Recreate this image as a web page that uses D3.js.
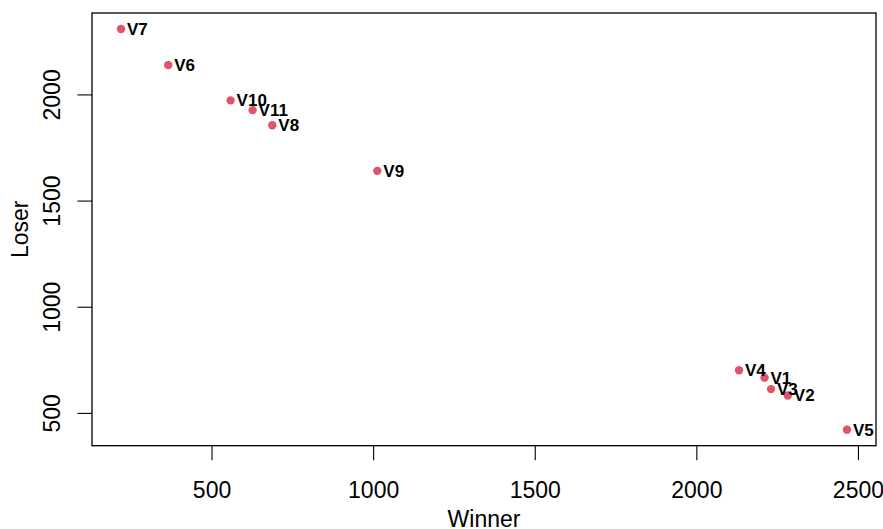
<!DOCTYPE html>
<html lang="en">
<head>
    <meta charset="UTF-8">
    <title>Winner vs Loser</title>
    <script src="https://d3js.org/d3.v7.min.js"></script>
    <style>
        body { margin: 0; background: white; }
        svg { display: block; font-family: "Liberation Sans", Arial, Helvetica, sans-serif; }
    </style>
</head>
<body>
<svg width="883" height="529"></svg>
<script>
// Data
var names  = ["V1", "V2", "V3", "V4", "V5", "V6", "V7", "V8", "V9", "V10", "V11"];
var winner = [2211, 2283, 2231, 2132, 2466, 366, 220, 688, 1013, 559, 627];
var loser  = [666, 582, 612, 701, 421, 2138, 2308, 1855, 1640, 1972, 1926];
var xTicks = [500, 1000, 1500, 2000, 2500];
var yTicks = [500, 1000, 1500, 2000];

var data = names.map(function (n, i) { return { name: n, x: winner[i], y: loser[i] }; });

// plot region like R's default margins
var plotLeft = 92, plotRight = 876, plotTop = 13, plotBottom = 445.7;

// R style 4% padding on the data range
function pad(ext) {
    var d = (ext[1] - ext[0]) * 0.04;
    return [ext[0] - d, ext[1] + d];
}

var x = d3.scaleLinear().domain(pad(d3.extent(winner))).range([plotLeft, plotRight]);
var y = d3.scaleLinear().domain(pad(d3.extent(loser))).range([plotBottom, plotTop]);

var svg = d3.select("svg");

// Bottom axis
var xAxis = svg.append("g")
    .attr("transform", "translate(0," + plotBottom + ")")
    .call(d3.axisBottom(x).tickValues(xTicks).tickFormat(d3.format("d"))
        .tickSize(14.5).tickPadding(21).tickSizeOuter(0));
xAxis.select(".domain").remove();
xAxis.selectAll("line").attr("stroke", "#000").attr("stroke-width", 1.1);
xAxis.selectAll("text")
    .attr("font-size", "23px")
    .attr("fill", "#000")
    .attr("font-family", "Liberation Sans, Arial, sans-serif");

// Left axis, labels rotated like R
var yAxis = svg.append("g")
    .attr("transform", "translate(" + plotLeft + ",0)")
    .call(d3.axisLeft(y).tickValues(yTicks).tickFormat(d3.format("d"))
        .tickSize(14.5).tickSizeOuter(0));
yAxis.select(".domain").remove();
yAxis.selectAll("line").attr("stroke", "#000").attr("stroke-width", 1.1);
yAxis.selectAll("text")
    .attr("x", null)
    .attr("dy", null)
    .attr("text-anchor", "middle")
    .attr("transform", "translate(-32,0) rotate(-90)")
    .attr("font-size", "23px")
    .attr("fill", "#000")
    .attr("font-family", "Liberation Sans, Arial, sans-serif");

// Box around plot
svg.append("rect")
    .attr("x", plotLeft)
    .attr("y", plotTop)
    .attr("width", plotRight - plotLeft)
    .attr("height", plotBottom - plotTop)
    .attr("fill", "none")
    .attr("stroke", "#000")
    .attr("stroke-width", 1.3);

// Points
svg.append("g")
    .selectAll("circle")
    .data(data)
    .enter()
    .append("circle")
    .attr("cx", function (d) { return x(d.x); })
    .attr("cy", function (d) { return y(d.y); })
    .attr("r", 4.2)
    .attr("fill", "#DF536B");

// Point labels to the right
svg.append("g")
    .selectAll("text")
    .data(data)
    .enter()
    .append("text")
    .attr("x", function (d) { return x(d.x) + 6; })
    .attr("y", function (d) { return y(d.y) + 6; })
    .attr("font-size", "17px")
    .attr("font-weight", "bold")
    .attr("fill", "#000")
    .text(function (d) { return d.name; });

// Axis titles
svg.append("text")
    .attr("x", (plotLeft + plotRight) / 2)
    .attr("y", 527)
    .attr("text-anchor", "middle")
    .attr("font-size", "23px")
    .text("Winner");

svg.append("text")
    .attr("transform", "translate(28," + ((plotTop + plotBottom) / 2) + ") rotate(-90)")
    .attr("text-anchor", "middle")
    .attr("font-size", "23px")
    .text("Loser");
</script>
</body>
</html>
